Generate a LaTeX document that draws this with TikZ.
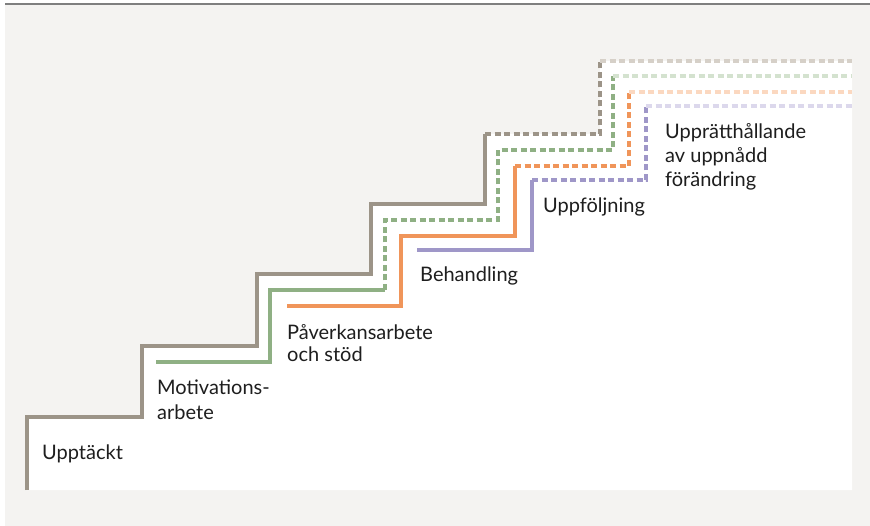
\documentclass[tikz,border=0pt]{standalone}
\usepackage{fontspec}
\setmainfont{Lato}
\definecolor{bgc}{HTML}{F4F3F1}
\definecolor{topline}{HTML}{7F7F7F}
\definecolor{cgray}{HTML}{9C9488}
\definecolor{cgreen}{HTML}{8FB084}
\definecolor{corange}{HTML}{F0955A}
\definecolor{cpurple}{HTML}{9F97C8}
\definecolor{lgray}{HTML}{D6D0C8}
\definecolor{lgreen}{HTML}{D4E2CF}
\definecolor{lorange}{HTML}{FBD8C0}
\definecolor{lpurple}{HTML}{DCD8EC}
\definecolor{txt}{HTML}{1E1E1E}
\begin{document}
\begin{tikzpicture}[x=1pt,y=-1pt,
  stairline/.style={line width=3.1pt,line join=miter},
  dashline/.style={stairline,dash pattern=on 6pt off 3.5pt},
  lbl/.style={anchor=base west,inner sep=0pt,text=txt,font=\fontsize{20}{24}\selectfont}]
\useasboundingbox (0,0) rectangle (870,526);
% background
\fill[bgc] (5,4) rectangle (870,526);
\draw[topline,line width=1.2pt] (5,4) -- (870,4);
% white area under the stairs
\fill[white] (27,490) -- (27,417) -- (142,417) -- (142,346) -- (257,346) -- (257,274)
  -- (371,274) -- (371,204) -- (485,204) -- (485,134) -- (600,134) -- (600,61)
  -- (852,61) -- (852,490) -- cycle;
% gray
\draw[stairline,cgray] (27,490) -- (27,417) -- (142,417) -- (142,346) -- (257,346) -- (257,274)
  -- (371,274) -- (371,204) -- (485,204) -- (485,134);
\draw[dashline,cgray] (485,134) -- (600,134) -- (600,61);
\draw[dashline,lgray] (600,61) -- (852,61);
% green
\draw[stairline,cgreen] (156,362) -- (270,362) -- (270,290) -- (385,290);
\draw[dashline,cgreen] (385,290) -- (385,220) -- (498,220) -- (498,150) -- (613,150) -- (613,76);
\draw[dashline,lgreen] (613,76) -- (852,76);
% orange
\draw[stairline,corange] (287,306) -- (401,306) -- (401,236) -- (515,236) -- (515,166);
\draw[dashline,corange] (515,166) -- (629,166) -- (629,92);
\draw[dashline,lorange] (629,92) -- (852,92);
% purple
\draw[stairline,cpurple] (417,250) -- (532,250) -- (532,180);
\draw[dashline,cpurple] (532,180) -- (646,180) -- (646,106);
\draw[dashline,lpurple] (646,106) -- (852,106);
% labels
\node[lbl] (l1) at (42,459) {Upptäckt};
\node[lbl] (l2a) at (157,395) {Motivations-};
\node[lbl] (l2b) at (157,419) {arbete};
\node[lbl] (l3a) at (287,340) {Påverkansarbete};
\node[lbl] (l3b) at (287,362) {och stöd};
\node[lbl] (l4) at (420,282) {Behandling};
\node[lbl] (l5) at (543,213) {Uppföljning};
\node[lbl] (l6a) at (665,139) {Upprätthållande};
\node[lbl] (l6b) at (665,163) {av uppnådd};
\node[lbl] (l6c) at (665,187) {förändring};
\end{tikzpicture}
\end{document}
